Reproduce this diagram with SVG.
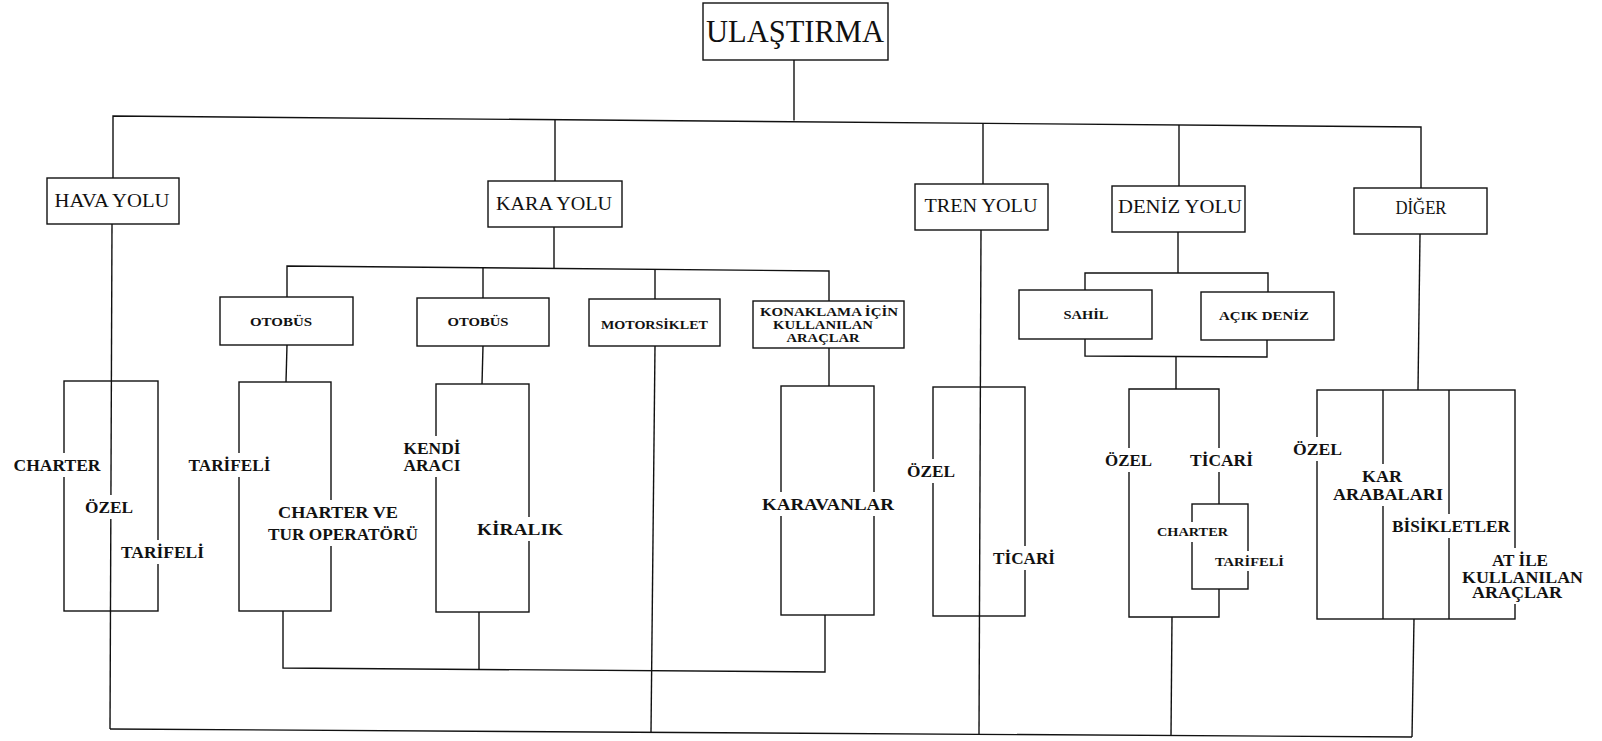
<svg xmlns="http://www.w3.org/2000/svg" width="1602" height="741" viewBox="0 0 1602 741">
<style>
.ln{fill:none;stroke:#111;stroke-width:1.4;stroke-linejoin:miter}
.bx{fill:#fff;stroke:#111;stroke-width:1.4}
.br{fill:none;stroke:#111;stroke-width:1.4}
.bg{fill:#fff;stroke:none}
.t{font-family:"Liberation Serif","DejaVu Serif",serif;fill:#111;text-anchor:middle}
.h1{font-size:32px}
.h2{font-size:19.5px}
.h3{font-size:13px;font-weight:bold}
.lb{font-size:16px;font-weight:bold}
.lbs{font-size:12px;font-weight:bold}
</style>
<rect width="1602" height="741" fill="#fff"/>
<g id="connectors">
  <line class="ln" x1="794" y1="60" x2="794" y2="120.5"/>
  <polyline class="ln" points="113,178 113,116 1421,127 1421,188"/>
  <line class="ln" x1="555" y1="119.7" x2="555" y2="181"/>
  <line class="ln" x1="983" y1="123.3" x2="983" y2="184"/>
  <line class="ln" x1="1179" y1="125" x2="1179" y2="186"/>
  <line class="ln" x1="112" y1="224" x2="110" y2="729"/>
  <line class="ln" x1="554" y1="227" x2="554" y2="268.5"/>
  <polyline class="ln" points="287,297 287,266 829,271 829,301"/>
  <line class="ln" x1="483" y1="268" x2="483" y2="298"/>
  <line class="ln" x1="655" y1="269.5" x2="655" y2="299"/>
  <line class="ln" x1="287" y1="345" x2="286" y2="382"/>
  <line class="ln" x1="483" y1="346" x2="482" y2="384"/>
  <line class="ln" x1="829" y1="348" x2="829" y2="386"/>
  <polyline class="ln" points="283,611 283,668 825,672 825,615"/>
  <line class="ln" x1="479" y1="612" x2="479" y2="670"/>
  <line class="ln" x1="655" y1="346" x2="651" y2="732.3"/>
  <line class="ln" x1="981" y1="230" x2="979" y2="734.3"/>
  <line class="ln" x1="1178" y1="232" x2="1178" y2="273"/>
  <polyline class="ln" points="1085,290 1085,273 1268,273 1268,292"/>
  <polyline class="ln" points="1085,339 1085,356 1267,357 1267,340"/>
  <line class="ln" x1="1176" y1="356.5" x2="1176" y2="389"/>
  <line class="ln" x1="1420" y1="234" x2="1418" y2="390"/>
  <line class="ln" x1="1172" y1="617" x2="1171" y2="735.5"/>
  <line class="ln" x1="1414" y1="619" x2="1412" y2="737"/>
  <polyline class="ln" points="110,729 1412,737"/>
</g>
<g id="ulastirma">
  <rect class="bx" x="703" y="3" width="185" height="57"/>
  <text class="t h1" x="795" y="42" textLength="178" lengthAdjust="spacingAndGlyphs">ULAŞTIRMA</text>
</g>
<g id="hava-yolu">
  <rect class="bx" x="47" y="178" width="132" height="46"/>
  <text class="t h2" x="112" y="207" textLength="115" lengthAdjust="spacingAndGlyphs">HAVA YOLU</text>
</g>
<g id="kara-yolu">
  <rect class="bx" x="488" y="181" width="134" height="46"/>
  <text class="t h2" x="554" y="210" textLength="116" lengthAdjust="spacingAndGlyphs">KARA YOLU</text>
</g>
<g id="tren-yolu">
  <rect class="bx" x="915" y="184" width="133" height="46"/>
  <text class="t h2" x="981" y="212" textLength="113" lengthAdjust="spacingAndGlyphs">TREN YOLU</text>
</g>
<g id="deniz-yolu">
  <rect class="bx" x="1112" y="186" width="133" height="46"/>
  <text class="t h2" x="1180" y="213" textLength="124" lengthAdjust="spacingAndGlyphs">DENİZ YOLU</text>
</g>
<g id="diger">
  <rect class="bx" x="1354" y="188" width="133" height="46"/>
  <text class="t h2" x="1421" y="214" textLength="51" lengthAdjust="spacingAndGlyphs">DİĞER</text>
</g>
<g id="otobus-1">
  <rect class="bx" x="220" y="297" width="133" height="48"/>
  <text class="t h3" x="281" y="326" textLength="62" lengthAdjust="spacingAndGlyphs">OTOBÜS</text>
</g>
<g id="otobus-2">
  <rect class="bx" x="417" y="298" width="132" height="48"/>
  <text class="t h3" x="478" y="326" textLength="61" lengthAdjust="spacingAndGlyphs">OTOBÜS</text>
</g>
<g id="motorsiklet">
  <rect class="bx" x="589" y="299" width="131" height="47"/>
  <text class="t h3" x="654.5" y="329" textLength="107" lengthAdjust="spacingAndGlyphs">MOTORSİKLET</text>
</g>
<g id="konaklama">
  <rect class="bx" x="753" y="301" width="151" height="47"/>
  <text class="t h3" x="829" y="316" textLength="138" lengthAdjust="spacingAndGlyphs">KONAKLAMA İÇİN</text>
  <text class="t h3" x="823" y="329" textLength="100" lengthAdjust="spacingAndGlyphs">KULLANILAN</text>
  <text class="t h3" x="823" y="342" textLength="73" lengthAdjust="spacingAndGlyphs">ARAÇLAR</text>
</g>
<g id="sahil">
  <rect class="bx" x="1019" y="290" width="133" height="49"/>
  <text class="t h3" x="1086" y="319" textLength="45" lengthAdjust="spacingAndGlyphs">SAHİL</text>
</g>
<g id="acik-deniz">
  <rect class="bx" x="1201" y="292" width="133" height="48"/>
  <text class="t h3" x="1264" y="320" textLength="90" lengthAdjust="spacingAndGlyphs">AÇIK DENİZ</text>
</g>
<g id="hava-turleri">
  <rect class="br" x="64" y="381" width="94" height="230"/>
  <rect class="bg" x="11.5" y="453" width="91" height="24"/>
  <rect class="bg" x="83" y="495" width="52" height="24"/>
  <rect class="bg" x="119" y="540" width="87" height="24"/>
  <text class="t lb" x="57" y="471" textLength="87" lengthAdjust="spacingAndGlyphs">CHARTER</text>
  <text class="t lb" x="109" y="513" textLength="48" lengthAdjust="spacingAndGlyphs">ÖZEL</text>
  <text class="t lb" x="162.5" y="558" textLength="83" lengthAdjust="spacingAndGlyphs">TARİFELİ</text>
</g>
<g id="otobus-1-turleri">
  <rect class="br" x="239" y="382" width="92" height="229"/>
  <rect class="bg" x="186.5" y="453" width="86" height="24"/>
  <rect class="bg" x="276" y="500" width="124" height="24"/>
  <rect class="bg" x="266" y="522" width="154" height="24"/>
  <text class="t lb" x="229.5" y="471" textLength="82" lengthAdjust="spacingAndGlyphs">TARİFELİ</text>
  <text class="t lb" x="338" y="518" textLength="120" lengthAdjust="spacingAndGlyphs">CHARTER VE</text>
  <text class="t lb" x="343" y="540" textLength="150" lengthAdjust="spacingAndGlyphs">TUR OPERATÖRÜ</text>
</g>
<g id="otobus-2-turleri">
  <rect class="br" x="436" y="384" width="93" height="228"/>
  <rect class="bg" x="401.5" y="436" width="61" height="41"/>
  <rect class="bg" x="475" y="517" width="90" height="24"/>
  <text class="t lb" x="432" y="454" textLength="57" lengthAdjust="spacingAndGlyphs">KENDİ</text>
  <text class="t lb" x="432" y="471" textLength="57" lengthAdjust="spacingAndGlyphs">ARACI</text>
  <text class="t lb" x="520" y="535" textLength="86" lengthAdjust="spacingAndGlyphs">KİRALIK</text>
</g>
<g id="karavanlar">
  <rect class="br" x="781" y="386" width="93" height="229"/>
  <rect class="bg" x="760" y="492" width="136" height="24"/>
  <text class="t lb" x="828" y="510" textLength="132" lengthAdjust="spacingAndGlyphs">KARAVANLAR</text>
</g>
<g id="tren-turleri">
  <rect class="br" x="933" y="387" width="92" height="229"/>
  <rect class="bg" x="905" y="459" width="52" height="24"/>
  <rect class="bg" x="991" y="546" width="66" height="24"/>
  <text class="t lb" x="931" y="477" textLength="48" lengthAdjust="spacingAndGlyphs">ÖZEL</text>
  <text class="t lb" x="1024" y="564" textLength="62" lengthAdjust="spacingAndGlyphs">TİCARİ</text>
</g>
<g id="deniz-turleri">
  <path class="br" d="M1219,504 V389 H1129 V617 H1219 V589"/>
  <rect class="bg" x="1103" y="448" width="51" height="24"/>
  <rect class="bg" x="1188" y="448" width="67" height="24"/>
  <text class="t lb" x="1128.5" y="466" textLength="47" lengthAdjust="spacingAndGlyphs">ÖZEL</text>
  <text class="t lb" x="1221.5" y="466" textLength="63" lengthAdjust="spacingAndGlyphs">TİCARİ</text>
</g>
<g id="ticari-turleri">
  <rect class="br" x="1192" y="504" width="56" height="85"/>
  <rect class="bg" x="1155" y="522" width="75" height="20"/>
  <rect class="bg" x="1213" y="551" width="73" height="20"/>
  <text class="t lbs" x="1192.5" y="536" textLength="71" lengthAdjust="spacingAndGlyphs">CHARTER</text>
  <text class="t lbs" x="1249.5" y="566" textLength="69" lengthAdjust="spacingAndGlyphs">TARİFELİ</text>
</g>
<g id="diger-turleri">
  <rect class="br" x="1317" y="390" width="198" height="229"/>
  <line class="ln" x1="1383" y1="390" x2="1383" y2="619"/>
  <line class="ln" x1="1449" y1="390" x2="1449" y2="619"/>
  <rect class="bg" x="1291" y="437" width="53" height="24"/>
  <rect class="bg" x="1360" y="464" width="44" height="20"/>
  <rect class="bg" x="1331" y="484" width="114" height="22"/>
  <rect class="bg" x="1390" y="514" width="122" height="24"/>
  <rect class="bg" x="1460" y="548" width="125" height="56"/>
  <text class="t lb" x="1317.5" y="455" textLength="49" lengthAdjust="spacingAndGlyphs">ÖZEL</text>
  <text class="t lb" x="1382" y="482" textLength="40" lengthAdjust="spacingAndGlyphs">KAR</text>
  <text class="t lb" x="1388" y="500" textLength="110" lengthAdjust="spacingAndGlyphs">ARABALARI</text>
  <text class="t lb" x="1451" y="532" textLength="118" lengthAdjust="spacingAndGlyphs">BİSİKLETLER</text>
  <text class="t lb" x="1520" y="566" textLength="56" lengthAdjust="spacingAndGlyphs">AT İLE</text>
  <text class="t lb" x="1522.5" y="583" textLength="121" lengthAdjust="spacingAndGlyphs">KULLANILAN</text>
  <text class="t lb" x="1517" y="598" textLength="90" lengthAdjust="spacingAndGlyphs">ARAÇLAR</text>
</g>
</svg>
